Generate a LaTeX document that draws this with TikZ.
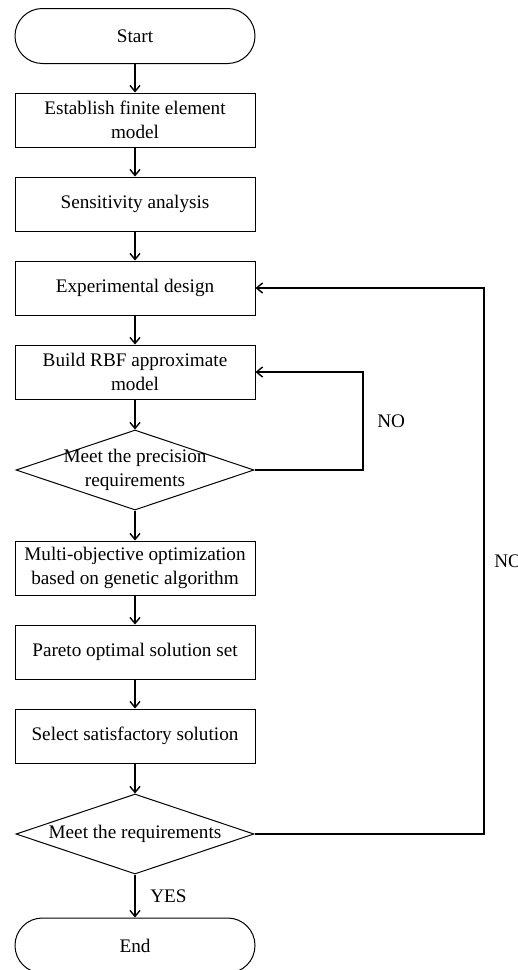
\documentclass[tikz,border=0pt]{standalone}
\usepackage{fontspec}
\setmainfont{Liberation Serif}
\usetikzlibrary{arrows.meta,shapes.geometric}

\begin{document}
\begin{tikzpicture}[x=0.5pt,y=-0.5pt,
    font=\fontsize{9.6}{11.8}\selectfont,
    box/.style={draw, line width=0.5pt, minimum width=120pt, minimum height=27pt, inner sep=0pt, align=center},
    terminal/.style={draw, line width=0.5pt, rounded corners=13.7pt, minimum width=120pt, minimum height=27.5pt, inner sep=0pt},
    decision/.style={draw, diamond, line width=0.5pt, minimum width=119pt, minimum height=40pt, inner sep=0pt},
    flow/.style={line width=0.7pt, -{Straight Barb[length=3pt,width=5pt]}}]

    % Fix the page to the reference size
    \useasboundingbox (0,0) rectangle (518,970);
    \clip (0,0) rectangle (518,970);

    % Draw the main column of steps
    \node[terminal] (start) at (135,36) {Start};
    \node[box] (fem) at (135,120) {Establish finite element\\model};
    \node[box] (sens) at (135,204) {Sensitivity analysis};
    \node[box] (doe) at (135,288) {Experimental design};
    \node[box] (rbf) at (135,372) {Build RBF approximate\\model};
    \node[decision] (prec) at (135,470) {};
    \node[align=center, inner sep=0pt] (prectext) at (prec) {Meet the precision\\requirements};
    \node[box] (moga) at (135,568) {Multi-objective optimization\\based on genetic algorithm};
    \node[box] (pareto) at (135,652) {Pareto optimal solution set};
    \node[box] (select) at (135,736) {Select satisfactory solution};
    \node[decision] (req) at (135,834) {};
    \node[inner sep=0pt] (reqtext) at (req) {Meet the requirements};
    \node[terminal] (end) at (135,945.5) {End};

    % Draw the downward arrows
    \foreach \a/\b in {start/fem, fem/sens, sens/doe, doe/rbf, rbf/prec, prec/moga, moga/pareto, pareto/select} {
        \draw[flow] (\a) -- (\b);
    }
    \draw[flow] (select) -- (req);
    \draw[flow] (req) -- node[right=4pt] (yes) {YES} (end);

    % Draw the two feedback loops
    \coordinate (innerloop) at (363,470);
    \draw[flow] (prec.east) -- (innerloop) -- node[right=3.5pt] (noinner) {NO} (innerloop |- rbf.east) -- (rbf.east);
    \coordinate (outerloop) at (484,834);
    \draw[flow] (req.east) -- (outerloop) -- node[right=1.5pt] (noouter) {NO} (outerloop |- doe.east) -- (doe.east);

\end{tikzpicture}
\end{document}
